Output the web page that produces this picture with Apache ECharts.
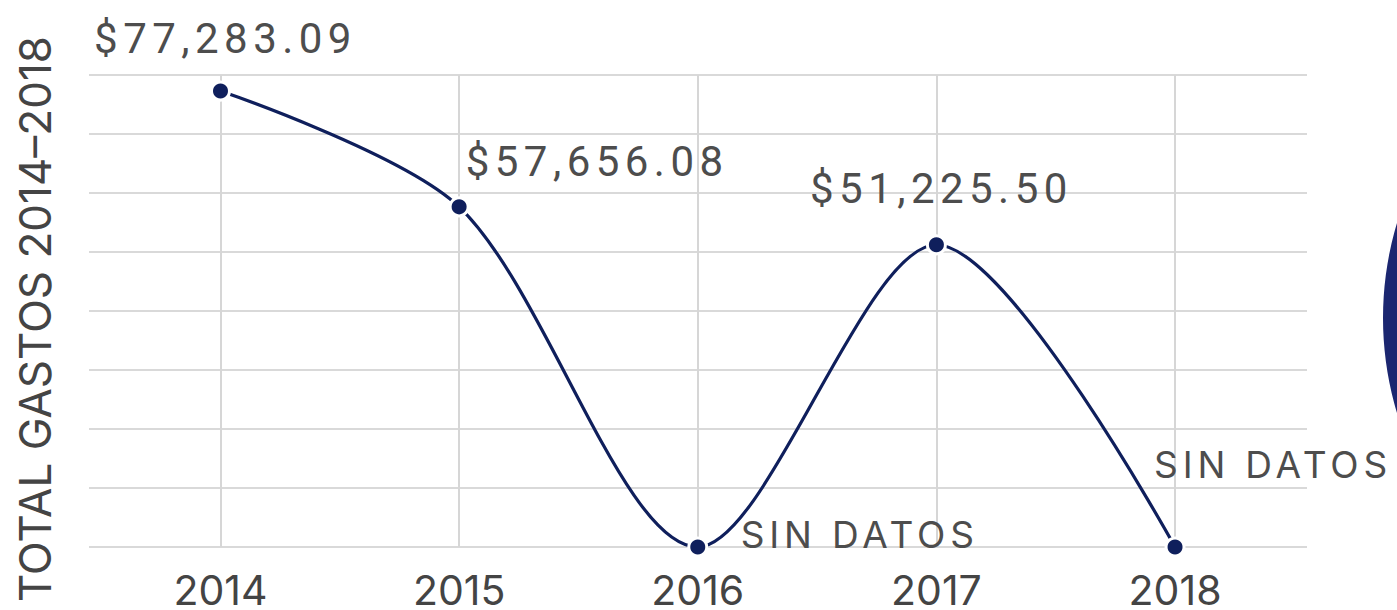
<!DOCTYPE html>
<html>
<head>
<meta charset="utf-8">
<script src="https://cdn.jsdelivr.net/npm/echarts@6/dist/echarts.min.js"></script>
<style>
    html, body { margin: 0; padding: 0; background: #fff; }
    #chart { width: 1397px; height: 610px; }
    /* spaced-out point labels */
    #chart text[style*="Roboto"] { letter-spacing: 0.13em; }
</style>
</head>
<body>
<div id="chart"></div>
<script>
    // values
    const years = [2014, 2015, 2016, 2017, 2018];
    const totals = [77283.09, 57656.08, 0, 51225.50, 0];
    const pointLabels = ['$77,283.09', '$57,656.08', 'SIN DATOS', '$51,225.50', 'SIN DATOS'];
    const yMin = 0;
    const yMax = 80000;
    const yStep = 10000;
    const axisTitle = 'TOTAL GASTOS 2014–2018';

    // where each label sits relative to its dot
    const labelShift = [[5, -53], [138, -45], [162, -13], [5, -56], [98, -83]];

    const chart = echarts.init(document.getElementById('chart'), null, { renderer: 'svg' });

    const points = years.map((y, i) => ({
        value: [y, totals[i]],
        label: {
            formatter: pointLabels[i],
            offset: labelShift[i],
            fontFamily: totals[i] ? 'Roboto' : 'Inter, Roboto',
            fontSize: totals[i] ? 42 : 37
        }
    }));

    chart.setOption({
        animation: false,
        grid: { left: 89, right: 90, top: 75, bottom: 60 },
        graphic: [{
            type: 'circle',
            shape: { cx: 1712, cy: 318, r: 329 },
            style: { fill: '#1b2670' },
            z: -1
        }],
        xAxis: {
            type: 'value',
            min: 2013.449,
            max: 2018.553,
            axisLine: { show: false },
            axisTick: { show: false },
            axisLabel: {
                showMinLabel: false,
                showMaxLabel: false,
                formatter: v => String(v),
                fontFamily: 'Inter',
                fontSize: 41,
                color: '#444',
                margin: 22
            },
            splitLine: {
                show: true,
                showMinLine: false,
                showMaxLine: false,
                lineStyle: { color: '#d6d6d6', width: 2 }
            }
        },
        yAxis: {
            type: 'value',
            min: yMin,
            max: yMax,
            interval: yStep,
            name: axisTitle,
            nameLocation: 'middle',
            nameGap: 32,
            nameTextStyle: {
                fontFamily: 'Inter',
                fontSize: 44,
                color: '#444',
                padding: [0, 16, 0, 0]
            },
            axisLine: { show: false },
            axisTick: { show: false },
            axisLabel: { show: false },
            splitLine: { lineStyle: { color: '#d9d9d9', width: 2 } }
        },
        series: [{
            type: 'line',
            smooth: 0.3,
            data: points,
            symbol: 'circle',
            symbolSize: 18,
            itemStyle: { color: '#0f1f5c', borderColor: '#fff', borderWidth: 3 },
            lineStyle: { color: '#0f1f5c', width: 3.2 },
            label: {
                show: true,
                position: 'inside',
                color: '#4d4d4d'
            }
        }]
    });
</script>
</body>
</html>
